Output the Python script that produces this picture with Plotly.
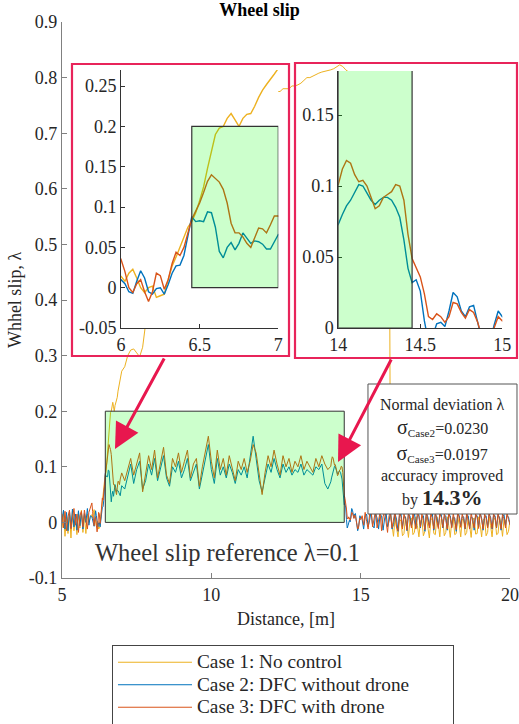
import numpy as np
import plotly.graph_objects as go

# ---------------- data (distance in m, wheel slip lambda) ----------------
# segment A: 5.00 .. 5.95, step 0.05
a_start, a_step = 5.0, 0.05
case1_a = [-0.010, 0.018, -0.025, 0.010, -0.020, 0.015, -0.028, 0.020, -0.015, 0.008,
           -0.022, 0.018, -0.010, 0.022, -0.018, 0.012, -0.020, 0.015, 0.000, 0.010]
case2_a = [0.005, 0.022, -0.012, 0.018, -0.015, 0.020, -0.010, 0.024, -0.008, 0.015,
           -0.014, 0.021, -0.006, 0.018, -0.012, 0.016, 0.000, 0.025, -0.005, 0.012]
case3_a = [0.015, -0.010, 0.020, -0.015, 0.010, 0.022, -0.012, 0.008, 0.025, -0.005,
           0.015, -0.018, 0.012, 0.020, -0.008, 0.022, 0.005, -0.012, 0.018, 0.028]

# segment B (zoom 1): 6.000 .. 7.000, step 0.025
b_start, b_step = 6.0, 0.025
case1_b = [0.014, 0.008, 0.018, 0.023, 0.012, 0.000, -0.006, 0.000, 0.002, -0.012,
           -0.010, -0.008, 0.010, 0.027, 0.038, 0.050, 0.062, 0.075, 0.082, 0.093,
           0.108, 0.125, 0.148, 0.170, 0.190, 0.198, 0.200, 0.210, 0.216, 0.208,
           0.200, 0.210, 0.215, 0.216, 0.225, 0.236, 0.245, 0.252, 0.258, 0.265, 0.272]
case2_b = [0.010, 0.005, -0.005, -0.007, 0.008, 0.021, 0.012, -0.005, -0.008, -0.001,
           0.000, -0.008, 0.004, 0.018, 0.027, 0.028, 0.040, 0.065, 0.088, 0.082,
           0.083, 0.082, 0.094, 0.093, 0.075, 0.045, 0.037, 0.050, 0.056, 0.047,
           0.055, 0.068, 0.062, 0.055, 0.058, 0.057, 0.054, 0.048, 0.048, 0.058, 0.066]
case3_b = [0.035, 0.020, 0.000, -0.006, 0.005, 0.010, -0.005, -0.017, -0.005, 0.018,
           0.015, -0.002, 0.010, 0.030, 0.044, 0.040, 0.050, 0.068, 0.085, 0.095,
           0.105, 0.118, 0.132, 0.140, 0.135, 0.131, 0.122, 0.105, 0.080, 0.068,
           0.068, 0.063, 0.055, 0.050, 0.062, 0.074, 0.073, 0.068, 0.078, 0.089, 0.089]

# segment C: 7.1 .. 13.9 (cases 2, 3), 7.1 .. 15.9 (case 1), step 0.1
c_start, c_step = 7.1, 0.1
case1_c = [0.280, 0.300, 0.310, 0.312, 0.305, 0.298, 0.315, 0.360, 0.400, 0.430,
           0.450, 0.470, 0.490, 0.510, 0.520, 0.540, 0.550, 0.570, 0.580, 0.590,
           0.600, 0.610, 0.620, 0.630, 0.635, 0.645, 0.650, 0.660, 0.665, 0.670,
           0.680, 0.685, 0.690, 0.700, 0.700, 0.710, 0.715, 0.720, 0.725, 0.730,
           0.735, 0.740, 0.745, 0.750, 0.750, 0.755, 0.760, 0.760, 0.765, 0.770,
           0.770, 0.775, 0.775, 0.780, 0.780, 0.780, 0.785, 0.785, 0.787, 0.790,
           0.795, 0.800, 0.800, 0.803, 0.806, 0.808, 0.810, 0.811, 0.813,
           0.814, 0.816, 0.819, 0.823, 0.820, 0.814, 0.810, 0.806, 0.803, 0.800,
           0.800, 0.795, 0.790, 0.790, 0.785, 0.780, 0.775, 0.770, 0.760, 0.750]
case2_c = [0.060, 0.085, 0.105, 0.070, 0.095, 0.110, 0.060, 0.075, 0.105, 0.085,
           0.115, 0.075, 0.095, 0.120, 0.080, 0.065, 0.100, 0.090, 0.110, 0.080,
           0.095, 0.115, 0.075, 0.090, 0.105, 0.060, 0.085, 0.110, 0.140, 0.095,
           0.070, 0.115, 0.085, 0.100, 0.080, 0.105, 0.090, 0.070, 0.095, 0.085,
           0.100, 0.080, 0.115, 0.155, 0.115, 0.075, 0.055, 0.080, 0.105, 0.090,
           0.115, 0.095, 0.080, 0.105, 0.090, 0.100, 0.085, 0.095, 0.090, 0.105,
           0.085, 0.095, 0.090, 0.085, 0.100, 0.095, 0.105, 0.070, 0.060]
case3_c = [0.075, 0.095, 0.115, 0.085, 0.105, 0.125, 0.055, 0.090, 0.120, 0.095,
           0.130, 0.080, 0.110, 0.135, 0.085, 0.070, 0.115, 0.100, 0.125, 0.090,
           0.110, 0.130, 0.080, 0.105, 0.115, 0.065, 0.100, 0.125, 0.155, 0.110,
           0.080, 0.130, 0.095, 0.115, 0.085, 0.120, 0.100, 0.075, 0.110, 0.095,
           0.115, 0.090, 0.110, 0.140, 0.125, 0.085, 0.050, 0.090, 0.120, 0.100,
           0.130, 0.105, 0.085, 0.120, 0.100, 0.115, 0.090, 0.110, 0.100, 0.120,
           0.095, 0.110, 0.100, 0.090, 0.115, 0.100, 0.120, 0.105, 0.095]

# segment D (zoom 2): 14.000 .. 15.000, step 0.025 (cases 2, 3)
d_start, d_step = 14.0, 0.025
case2_d = [0.073, 0.080, 0.086, 0.090, 0.095, 0.101, 0.100, 0.095, 0.090, 0.087,
           0.090, 0.092, 0.092, 0.090, 0.085, 0.078, 0.062, 0.042, 0.032, 0.034,
           0.026, 0.005, -0.010, -0.006, 0.003, 0.004, 0.001, 0.012, 0.025, 0.022,
           0.012, 0.008, 0.015, 0.016, 0.004, -0.008, -0.015, -0.010, 0.002, 0.012, 0.008]
case3_d = [0.101, 0.112, 0.118, 0.116, 0.108, 0.103, 0.104, 0.100, 0.092, 0.084,
           0.086, 0.092, 0.094, 0.096, 0.101, 0.100, 0.090, 0.066, 0.049, 0.043,
           0.036, 0.024, 0.008, 0.006, 0.010, 0.008, 0.004, 0.008, 0.018, 0.017,
           0.011, 0.007, 0.013, 0.011, 0.004, -0.006, -0.012, -0.010, 0.000, 0.008, 0.005]

# segment E: tail, step 0.05 (cases 2, 3 from 15.05; case 1 from 15.95)
e_start, e1_start, e_step = 15.05, 15.95, 0.05
case2_e = [0.005, -0.012, 0.010, 0.015, -0.008, 0.004, 0.020, -0.006, -0.010, 0.016,
           0.008, -0.012, 0.014, 0.012, -0.014, 0.006, 0.018, -0.008, 0.002, 0.020,
           -0.012, -0.004, 0.016, 0.006, -0.016, 0.012, 0.016, -0.008, 0.010, 0.010,
           -0.015, 0.014, 0.012, -0.006, 0.010, 0.018, -0.010, 0.012, 0.014, -0.010,
           0.008, 0.012, -0.016, 0.016, 0.010, -0.006, 0.010, 0.016, -0.014, 0.014,
           0.010, -0.008, 0.012, 0.014, -0.010, 0.010, 0.012, -0.014, 0.014, 0.012,
           -0.008, 0.010, 0.008, -0.016, 0.016, 0.012, -0.006, 0.010, 0.010, -0.012,
           0.014, 0.012, -0.010, 0.010, 0.008, -0.014, 0.012, 0.012, -0.008, 0.016,
           0.008, -0.014, 0.010, 0.012, -0.008, 0.014, 0.010, -0.012, 0.012, 0.012,
           -0.010, 0.014, 0.008, -0.014, 0.010, 0.014, -0.006, 0.012, 0.010, -0.004]
case3_e = [0.012, -0.005, 0.018, 0.002, -0.012, 0.015, 0.020, -0.008, 0.005, 0.022,
           -0.010, 0.008, 0.018, -0.015, 0.010, 0.020, -0.005, -0.018, 0.012, 0.016,
           -0.010, 0.005, 0.020, -0.008, -0.015, 0.018, 0.010, -0.012, 0.015, 0.005,
           -0.014, 0.020, 0.008, -0.010, 0.016, 0.002, -0.012, 0.018, 0.010, -0.008,
           0.015, 0.004, -0.013, 0.019, 0.006, -0.010, 0.016, 0.008, -0.012, 0.020,
           0.003, -0.011, 0.017, 0.009, -0.009, 0.015, 0.004, -0.012, 0.018, 0.007,
           -0.010, 0.016, 0.002, -0.013, 0.019, 0.008, -0.009, 0.015, 0.005, -0.011,
           0.018, 0.006, -0.012, 0.017, 0.003, -0.010, 0.016, 0.008, -0.011, 0.019,
           0.004, -0.012, 0.015, 0.007, -0.010, 0.018, 0.005, -0.011, 0.016, 0.008,
           -0.009, 0.017, 0.003, -0.012, 0.015, 0.006, -0.010, 0.018, 0.005, -0.004]
case1_e = [0.720, 0.015, -0.005, -0.025, 0.008, -0.010, -0.026, 0.006, 0.002, -0.024,
           -0.020, 0.010, -0.004, -0.027, 0.004, 0.008, -0.022, -0.018, 0.010, -0.006,
           -0.026, 0.002, 0.006, -0.024, -0.016, 0.010, -0.008, -0.028, 0.004, 0.008,
           -0.020, -0.022, 0.010, -0.002, -0.026, 0.006, 0.004, -0.024, -0.018, 0.010,
           -0.006, -0.027, 0.003, 0.008, -0.022, -0.020, 0.010, -0.004, -0.026, 0.005,
           0.006, -0.023, -0.018, 0.010, -0.006, -0.027, 0.004, 0.008, -0.021, -0.020,
           0.010, -0.004, -0.026, 0.005, 0.006, -0.024, -0.018, 0.010, -0.006, -0.026,
           0.004, 0.008, -0.022, -0.020, 0.010, -0.002, -0.025, 0.006, 0.004, -0.022,
           -0.016, 0.004]

series_names = ["Case 1: No control", "Case 2: DFC without drone", "Case 3: DFC with drone"]
series_colors = ["#EDB120", "#0072BD", "#D95319"]

main_xticks = [5, 10, 15, 20]
main_yticks = [-0.1, 0, 0.1, 0.2, 0.3, 0.4, 0.5, 0.6, 0.7, 0.8, 0.9]
main_ylabels = ["-0.1", "0", "0.1", "0.2", "0.3", "0.4", "0.5", "0.6", "0.7", "0.8", "0.9"]
in1_xticks, in1_xlabels = [6, 6.5, 7], ["6", "6.5", "7"]
in1_yticks = [-0.05, 0, 0.05, 0.1, 0.15, 0.2, 0.25]
in1_ylabels = ["-0.05", "0", "0.05", "0.1", "0.15", "0.2", "0.25"]
in2_xticks, in2_xlabels = [14, 14.5, 15], ["14", "14.5", "15"]
in2_yticks = [0, 0.05, 0.1, 0.15]
in2_ylabels = ["0", "0.05", "0.1", "0.15"]


def grid(start, step, n):
    return list(np.round(start + step * np.arange(n), 4))


def build(segments):
    xs, ys = [], []
    for start, step, vals in segments:
        xs += grid(start, step, len(vals))
        ys += vals
    return xs, ys


s1 = build([(a_start, a_step, case1_a), (b_start, b_step, case1_b),
            (c_start, c_step, case1_c), (e1_start, e_step, case1_e)])
s2 = build([(a_start, a_step, case2_a), (b_start, b_step, case2_b),
            (c_start, c_step, case2_c), (d_start, d_step, case2_d), (e_start, e_step, case2_e)])
s3 = build([(a_start, a_step, case3_a), (b_start, b_step, case3_b),
            (c_start, c_step, case3_c), (d_start, d_step, case3_d), (e_start, e_step, case3_e)])
series = [s1, s2, s3]

FONT = "Liberation Serif, Times New Roman, serif"
TXT = "#262626"

fig = go.Figure()
legend_pad = [0, 8, 0]
for (xs, ys), name, col, pad in zip(series, series_names, series_colors, legend_pad):
    label = "<span style='font-size:19.3px'>" + name + "\u00a0" * pad + "</span>"
    fig.add_trace(go.Scatter(x=xs, y=ys, mode="lines", name=label,
                             line=dict(color=col, width=1), xaxis="x", yaxis="y"))
for (xs, ys), col in zip(series, series_colors):
    fig.add_trace(go.Scatter(x=xs, y=ys, mode="lines", showlegend=False,
                             line=dict(color=col, width=1.4), xaxis="x2", yaxis="y2"))
for (xs, ys), col in zip(series, series_colors):
    fig.add_trace(go.Scatter(x=xs, y=ys, mode="lines", showlegend=False,
                             line=dict(color=col, width=1.4), xaxis="x3", yaxis="y3"))

axis_common = dict(showgrid=False, zeroline=False, showline=True, ticks="inside",
                   tickfont=dict(family=FONT, size=18, color=TXT))

GREEN = "rgba(0,255,0,0.2)"
shapes = [
    dict(type="rect", xref="x", yref="y", x0=6.45, x1=14.45, y0=0, y1=0.2,
         fillcolor=GREEN, line=dict(color="#333", width=1), layer="above"),
    dict(type="rect", xref="x2", yref="y2", x0=6.45, x1=7.0, y0=0, y1=0.2,
         fillcolor=GREEN, line=dict(color="#333", width=1.2), layer="above"),
    dict(type="rect", xref="x3", yref="y3", x0=14.0, x1=14.45, y0=0, y1=0.2,
         fillcolor=GREEN, line=dict(color="#333", width=1.2), layer="above"),
    dict(type="rect", xref="paper", yref="paper", x0=0.0223, x1=0.5067, y0=0.3993, y1=0.9245,
         line=dict(color="#E8245A", width=2.2), layer="above"),
    dict(type="rect", xref="paper", yref="paper", x0=0.5201, x1=1.0156, y0=0.3957, y1=0.9263,
         line=dict(color="#E8245A", width=2.2), layer="above"),
    # statistics box
    dict(type="rect", xref="paper", yref="paper", x0=0.683, x1=1.0156, y0=0.1151, y1=0.3489,
         fillcolor="white", line=dict(color="#555", width=1), layer="above"),
]

ARROW = "#E8174E"
C = dict(xanchor="center", yanchor="middle")
annotations = [
    dict(xref="paper", yref="paper", x=0.1183, y=0.232, ax=50, ay=-92, text="",
         showarrow=True, arrowhead=2, arrowsize=1.7, arrowwidth=3, arrowcolor=ARROW),
    dict(xref="paper", yref="paper", x=0.6161, y=0.2086, ax=54, ay=-104, text="",
         showarrow=True, arrowhead=2, arrowsize=1.7, arrowwidth=3, arrowcolor=ARROW),
]
box_lines = [
    ("Normal deviation λ", 0.3129),
    ("<span style='font-size:20px'>σ</span><sub>Case2</sub>=0.0230", 0.2698),
    ("<span style='font-size:20px'>σ</span><sub>Case3</sub>=0.0197<br>accuracy improved", 0.2068),
    ("by <b><span style='font-size:22px'>14.3%</span></b>", 0.1439),
]
for txt, yy in box_lines:
    annotations.append(dict(xref="paper", yref="paper", x=0.8493, y=yy, text=txt,
                            showarrow=False, font=dict(family=FONT, size=16, color=TXT), **C))
annotations.append(dict(xref="paper", yref="paper", x=0.3705, y=0.045,
                        text="Wheel slip reference λ=0.1", showarrow=False,
                        font=dict(family=FONT, size=24.5, color="#333"), **C))

fig.update_layout(
    width=519, height=724,
    margin=dict(l=62, r=9, t=22, b=146, autoexpand=False),
    paper_bgcolor="white", plot_bgcolor="white",
    font=dict(family=FONT, size=18, color=TXT),
    title=dict(text="<b>Wheel slip</b>", x=0.5, xanchor="center", y=1 - 10 / 724,
               yanchor="middle", font=dict(family=FONT, size=18, color="black")),
    xaxis=dict(domain=[0, 1], range=[5, 20], tickvals=main_xticks, ticklen=5,
               linecolor="#808080", linewidth=1.3, tickcolor="#808080", anchor="y",
               title=dict(text="Distance, [m]", standoff=8,
                          font=dict(family=FONT, size=18, color=TXT)), **axis_common),
    yaxis=dict(domain=[0, 1], range=[-0.1, 0.9], tickvals=main_yticks, ticktext=main_ylabels,
               ticklen=5, linecolor="#808080", linewidth=1.3, tickcolor="#808080", anchor="x",
               title=dict(text="Whhel slip, λ", standoff=2,
                          font=dict(family=FONT, size=18, color=TXT)), **axis_common),
    xaxis2=dict(domain=[0.1317, 0.4828], range=[6, 7], tickvals=in1_xticks, ticktext=in1_xlabels,
                ticklen=4, linecolor="#333", tickcolor="#333", anchor="y2", **axis_common),
    yaxis2=dict(domain=[0.4496, 0.9137], range=[-0.05, 0.27], tickvals=in1_yticks,
                ticktext=in1_ylabels, ticklen=4, linecolor="#333", tickcolor="#333",
                anchor="x2", **axis_common),
    xaxis3=dict(domain=[0.6167, 0.9828], range=[14, 15], tickvals=in2_xticks, ticktext=in2_xlabels,
                ticklen=4, linecolor="#333", tickcolor="#333", anchor="y3", **axis_common),
    yaxis3=dict(domain=[0.4496, 0.9119], range=[0, 0.181], tickvals=in2_yticks,
                ticktext=in2_ylabels, ticklen=4, linecolor="#333", tickcolor="#333",
                anchor="x3", **axis_common),
    legend=dict(x=0.1116, y=-0.1205, xanchor="left", yanchor="top", bgcolor="white",
                bordercolor="#444", borderwidth=1, itemwidth=74, tracegroupgap=0,
                font=dict(family=FONT, size=15, color=TXT)),
    shapes=shapes,
    annotations=annotations,
    showlegend=True,
)

fig.write_html("out.html", config={"displayModeBar": False},
               post_script="document.body.style.margin='0px';document.body.style.overflow='hidden';")
